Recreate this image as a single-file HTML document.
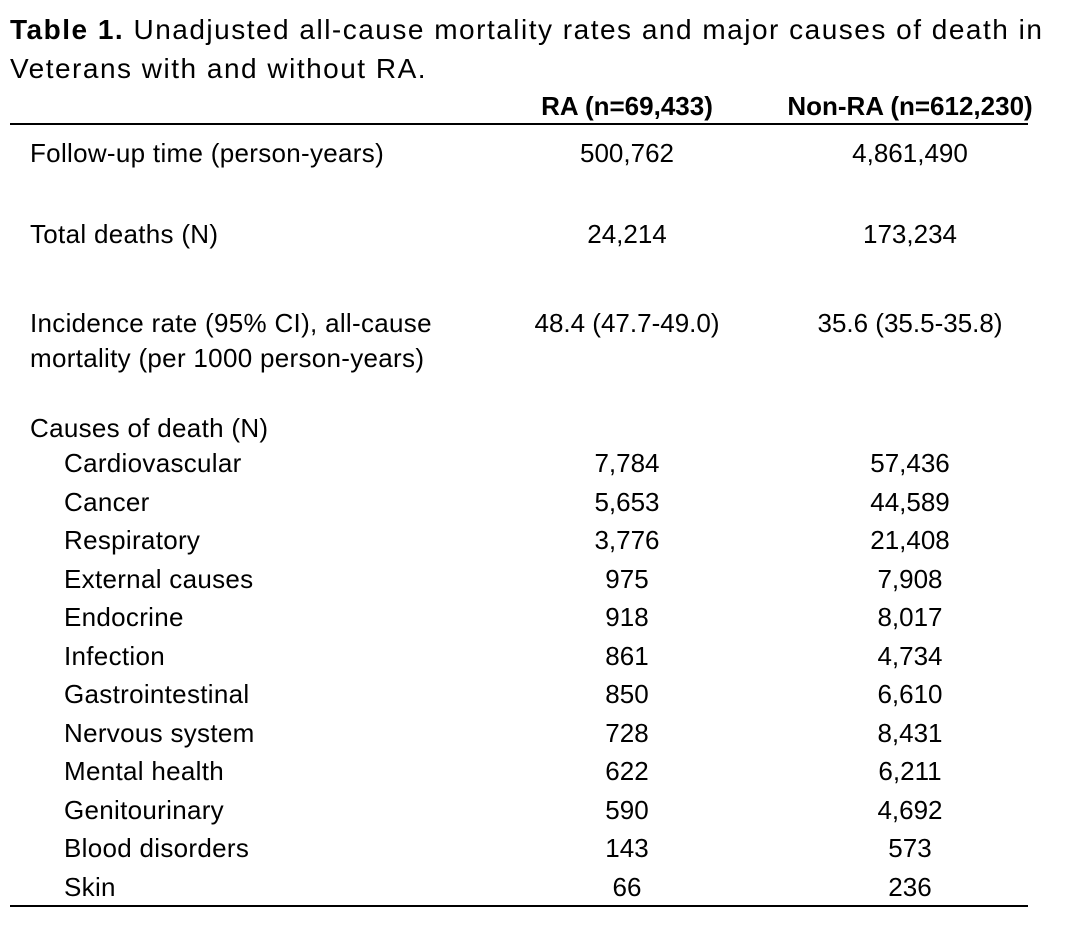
<!DOCTYPE html>
<html><head><meta charset="utf-8"><style>
body{margin:0;width:1080px;height:926px;background:#fff;font-family:"Liberation Sans",sans-serif;color:#000;position:relative;overflow:hidden}
.t{position:absolute;font-size:26px;letter-spacing:0.3px;white-space:nowrap;line-height:1}
.c1{position:absolute;width:240px;text-align:center;left:507px;font-size:26px;line-height:1;white-space:nowrap}
.c2{position:absolute;width:280px;text-align:center;left:770px;font-size:26px;line-height:1;white-space:nowrap}
.rule{position:absolute;left:10px;width:1018px;background:#000}
</style></head><body>
<div class="t" style="left:10px;top:16px;font-size:28px;letter-spacing:1.5px"><b>Table 1.</b> Unadjusted all-cause mortality rates and major causes of death in</div>
<div class="t" style="left:10px;top:55px;font-size:28px;letter-spacing:1.5px">Veterans with and without RA.</div>
<div class="c1" style="top:93px;font-weight:bold">RA (n=69,433)</div>
<div class="c2" style="top:93px;font-weight:bold">Non-RA (n=612,230)</div>
<div class="rule" style="top:123px;height:2px"></div>
<div id="rows"></div>
<div class="rule" style="top:905px;height:2px"></div>
<script>
const labels=[["Follow-up time (person-years)",30,140],["Total deaths (N)",30,221],["Incidence rate (95% CI), all-cause",30,310],["mortality (per 1000 person-years)",30,345],["Causes of death (N)",30,415]];
const causes=["Cardiovascular","Cancer","Respiratory","External causes","Endocrine","Infection","Gastrointestinal","Nervous system","Mental health","Genitourinary","Blood disorders","Skin"];
const raVals=["7,784","5,653","3,776","975","918","861","850","728","622","590","143","66"];
const nonVals=["57,436","44,589","21,408","7,908","8,017","4,734","6,610","8,431","6,211","4,692","573","236"];
const top1=[["500,762","4,861,490",140],["24,214","173,234",221],["48.4 (47.7-49.0)","35.6 (35.5-35.8)",310]];
const R=document.getElementById('rows');
function mk(cls,txt,top,left,name){const d=document.createElement('div');d.className=cls;d.textContent=txt;d.style.top=top+'px';if(left!=null)d.style.left=left+'px';


R.appendChild(d);}
labels.forEach((l,i)=>mk('t',l[0],l[2],l[1],'row-label-'+i));
top1.forEach((r,i)=>{mk('c1',r[0],r[2],null,'ra-value-'+i);mk('c2',r[1],r[2],null,'non-ra-value-'+i);});
causes.forEach((c,i)=>{const y=450+i*38.5;mk('t',c,y,64,'cause-label');mk('c1',raVals[i],y,null,'ra-cause-value');mk('c2',nonVals[i],y,null,'non-ra-cause-value');});
</script>
</body></html>
